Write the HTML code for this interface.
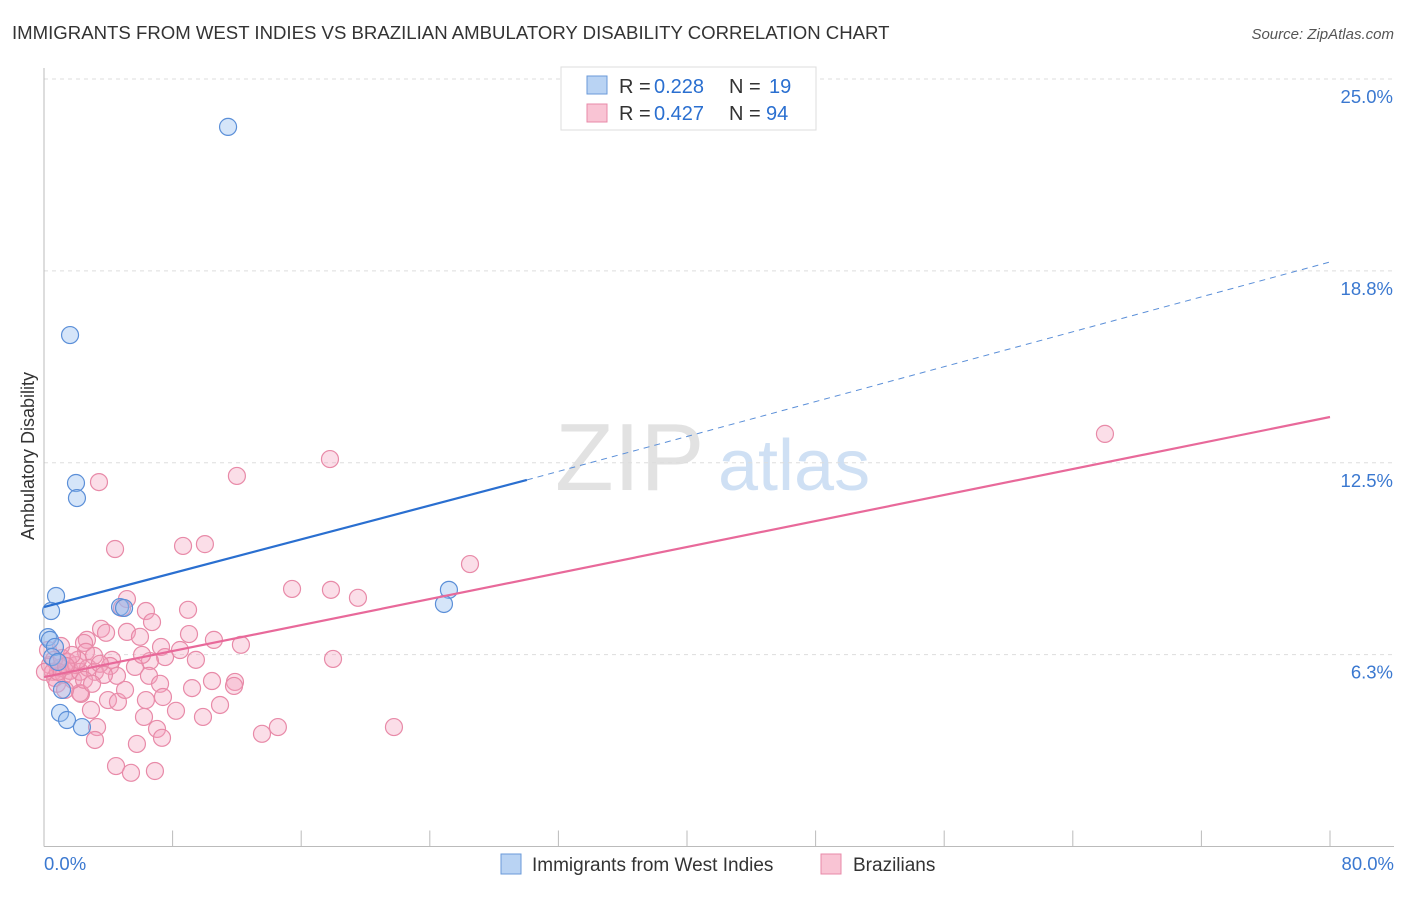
<!DOCTYPE html>
<html><head><meta charset="utf-8"><style>
body{margin:0;background:#fff;font-family:"Liberation Sans",sans-serif}
svg text{font-family:"Liberation Sans",sans-serif}
</style></head><body>
<svg width="1406" height="892" viewBox="0 0 1406 892" id="chart">
<text x="12" y="39" font-size="18.6" fill="#333">IMMIGRANTS FROM WEST INDIES VS BRAZILIAN AMBULATORY DISABILITY CORRELATION CHART</text>
<text x="1394" y="39" font-size="15" fill="#555" font-style="italic" text-anchor="end">Source: ZipAtlas.com</text>
<text x="34" y="456" font-size="18" fill="#333" transform="rotate(-90 34 456)" text-anchor="middle">Ambulatory Disability</text>
<g><text x="555" y="490" font-size="96" fill="#e2e2e2" font-family="Liberation Serif">ZIP</text><text x="718" y="490" font-size="72" fill="#cfe0f4">atlas</text></g>
<g id="grid"></g>
<g id="marks"></g>
<g>
<rect x="561" y="67" width="255" height="63" fill="#fff" stroke="#ddd"/>
<rect x="587" y="76" width="20" height="18" fill="#b9d3f3" stroke="#6a9ad8"/>
<rect x="587" y="104" width="20" height="18" fill="#f9c4d4" stroke="#e88aa8"/>
<g>
<text x="619" y="93" font-size="20" fill="#333">R =</text><text x="654" y="93" font-size="20" fill="#2a6fd0">0.228</text>
<text x="729" y="93" font-size="20" fill="#333">N =</text><text x="769" y="93" font-size="20" fill="#2a6fd0">19</text></g>
<g>
<text x="619" y="120" font-size="20" fill="#333">R =</text><text x="654" y="120" font-size="20" fill="#2a6fd0">0.427</text>
<text x="729" y="120" font-size="20" fill="#333">N =</text><text x="766" y="120" font-size="20" fill="#2a6fd0">94</text></g>
</g>
<g>
<rect x="501" y="854" width="20" height="20" fill="#b9d3f3" stroke="#6a9ad8"/>
<text x="532" y="871" font-size="19" fill="#333">Immigrants from West Indies</text>
<rect x="821" y="854" width="20" height="20" fill="#f9c4d4" stroke="#e88aa8"/>
<text x="853" y="871" font-size="19" fill="#333">Brazilians</text>
</g>
</svg>
<script>
const yTicks=[25.0,18.75,12.5,6.25];
const yTickLabels=["25.0%","18.8%","12.5%","6.3%"];
const xTicks=[0,8,16,24,32,40,48,56,64,72,80];
const blueX=[11.45,1.62,1.99,2.05,0.75,0.44,4.73,4.98,25.19,24.88,0.25,0.37,0.68,0.5,0.87,1.12,1.0,1.43,2.36];
const blueY=[23.44,16.66,11.84,11.35,8.16,7.67,7.80,7.77,8.36,7.90,6.82,6.73,6.50,6.17,6.01,5.10,4.35,4.12,3.89];
const pinkX=[66.0,17.79,12.0,3.42,4.42,8.65,10.01,26.5,15.43,17.85,19.53,5.16,4.85,6.34,8.96,6.72,5.16,5.97,3.55,3.86,2.67,2.49,9.02,10.57,12.25,7.28,7.53,9.45,17.98,6.59,2.61,3.11,4.23,4.11,5.66,4.54,6.53,7.22,7.40,6.34,9.21,10.45,11.88,11.82,3.98,4.60,2.30,2.92,8.21,9.89,10.95,6.22,7.03,7.34,3.30,3.17,5.78,13.56,14.55,21.77,4.48,5.41,6.90,2.24,0.37,0.56,0.68,1.0,1.24,1.49,1.62,1.80,1.99,2.24,0.81,1.31,0.25,0.62,1.12,2.74,3.17,3.48,3.73,2.11,1.74,2.49,0.87,1.37,2.99,0.06,1.06,5.04,8.46,6.10];
const pinkY=[13.44,12.62,12.07,11.87,9.69,9.79,9.85,9.20,8.39,8.36,8.10,8.06,7.77,7.67,7.71,7.31,6.99,6.83,7.09,6.96,6.73,6.63,6.92,6.73,6.57,6.50,6.17,6.08,6.11,6.04,6.34,6.21,6.08,5.88,5.85,5.56,5.56,5.30,4.87,4.77,5.16,5.39,5.36,5.23,4.77,4.71,4.97,4.45,4.42,4.22,4.61,4.22,3.83,3.54,3.89,3.47,3.34,3.67,3.89,3.89,2.62,2.40,2.46,5.0,5.91,5.69,5.49,5.82,5.59,6.01,5.72,5.43,5.91,5.69,5.30,5.10,6.40,6.08,6.14,5.82,5.69,5.95,5.59,6.08,6.24,5.43,5.69,5.88,5.30,5.69,6.53,5.10,6.40,6.24];
const blueTrend=[[0,7.80],[30.04,11.94],[80,19.04]];
const pinkTrend=[[0,5.52],[80,13.99]];
const NS="http://www.w3.org/2000/svg";
const X=v=>44+v*16.075, Y=v=>79+(25-v)*30.7;
function mk(t,a,p){const e=document.createElementNS(NS,t);for(const k in a)e.setAttribute(k,a[k]);p.appendChild(e);return e;}
const g=document.getElementById('grid'),m=document.getElementById('marks');
yTicks.forEach((t,i)=>{const l=mk('line',{x1:44,x2:1394,y1:Y(t),y2:Y(t),stroke:'#ddd','stroke-dasharray':'4,4'},g);


const tx=mk('text',{x:1393,y:Y(t)+24,'font-size':18.5,fill:'#3a78d0','text-anchor':'end'},g);tx.textContent=yTickLabels[i];

});
const ax=mk('line',{x1:44,x2:1394,y1:Y(0),y2:Y(0),stroke:'#bbb'},g);


const ay=mk('line',{x1:44,x2:44,y1:68,y2:Y(0),stroke:'#bbb'},g);


xTicks.forEach(t=>{const l=mk('line',{x1:X(t),x2:X(t),y1:Y(0)-16,y2:Y(0),stroke:'#bbb'},g);

});
const xl0=mk('text',{x:44,y:870,'font-size':18.5,fill:'#3a78d0'},g);xl0.textContent='0.0%';


const xl1=mk('text',{x:1394,y:870,'font-size':18.5,fill:'#3a78d0','text-anchor':'end'},g);xl1.textContent='80.0%';


pinkX.forEach((v,i)=>{const c=mk('circle',{cx:X(v),cy:Y(pinkY[i]),r:8.5,fill:'rgba(244,160,188,0.35)',stroke:'#e88aa8','stroke-width':1.2},m);

});
blueX.forEach((v,i)=>{const c=mk('circle',{cx:X(v),cy:Y(blueY[i]),r:8.5,fill:'rgba(150,190,240,0.4)',stroke:'#5b8fd8','stroke-width':1.2},m);

});
const bl=mk('line',{x1:X(blueTrend[0][0]),y1:Y(blueTrend[0][1]),x2:X(blueTrend[1][0]),y2:Y(blueTrend[1][1]),stroke:'#2a6fd0','stroke-width':2.2},m);


const bd=mk('line',{x1:X(blueTrend[1][0]),y1:Y(blueTrend[1][1]),x2:X(blueTrend[2][0]),y2:Y(blueTrend[2][1]),stroke:'#5b8fd8','stroke-width':1,'stroke-dasharray':'6,5'},m);


const pl=mk('line',{x1:X(pinkTrend[0][0]),y1:Y(pinkTrend[0][1]),x2:X(pinkTrend[1][0]),y2:Y(pinkTrend[1][1]),stroke:'#e8699a','stroke-width':2.2},m);


</script>
</body></html>
